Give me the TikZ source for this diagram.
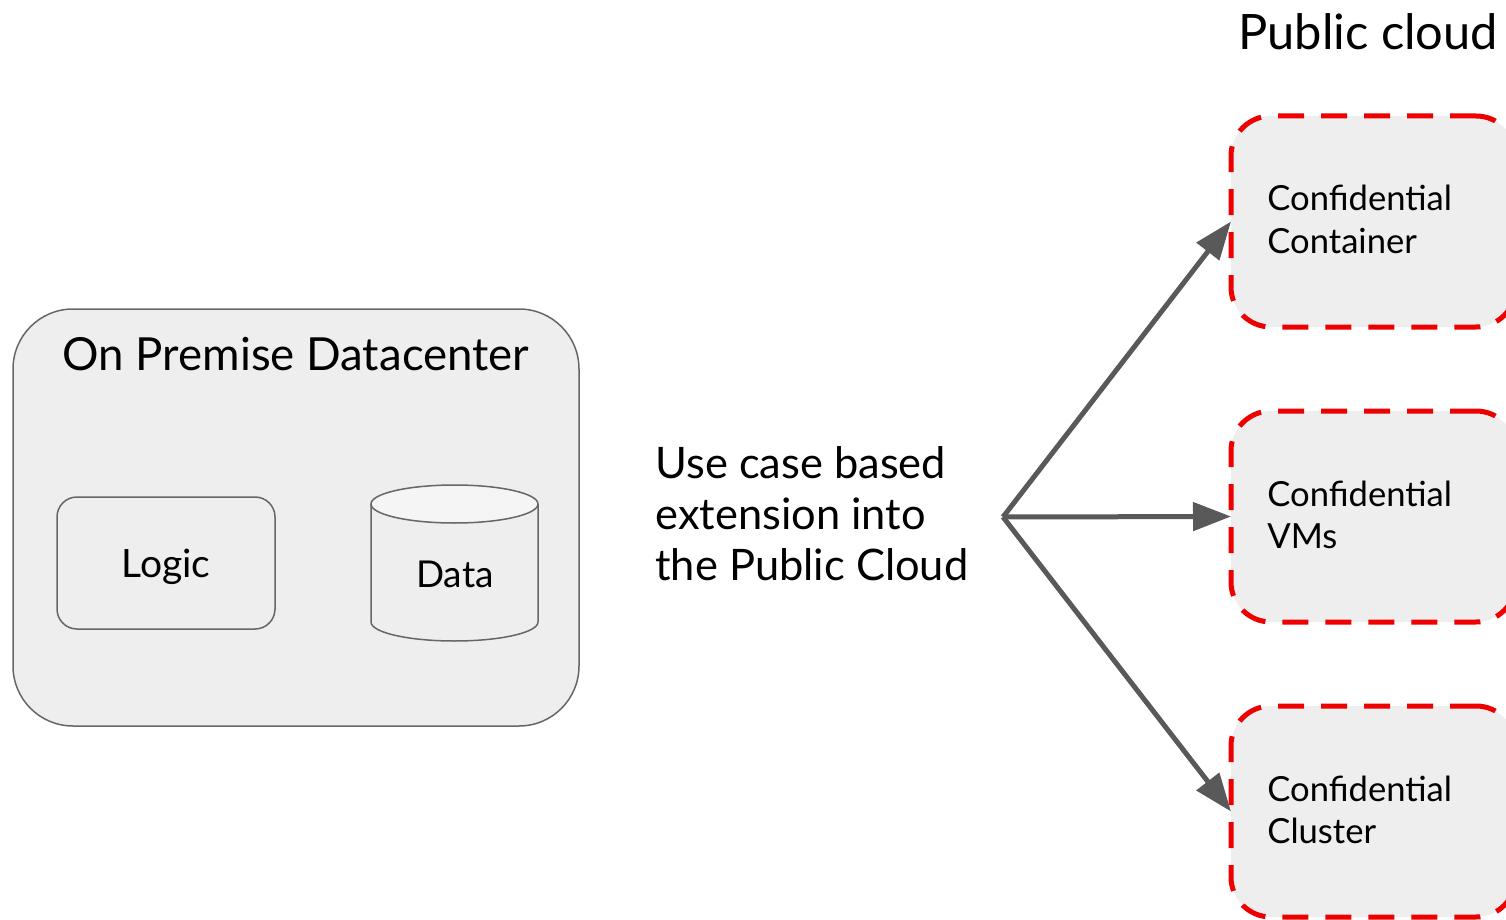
\documentclass[tikz,border=0pt]{standalone}
\usepackage{fontspec}
\setmainfont{Lato}
\usetikzlibrary{arrows.meta}
\definecolor{boxgray}{HTML}{EEEEEE}
\definecolor{topgray}{HTML}{F5F5F5}
\definecolor{linegray}{HTML}{666666}
\definecolor{arrowgray}{HTML}{595959}
\definecolor{cloudred}{HTML}{EE0000}
\tikzset{
  premise/.style={draw=linegray, line width=0.75pt, fill=boxgray, rounded corners=30pt,
    minimum width=283pt, minimum height=208.5pt, inner sep=0pt},
  logicbox/.style={draw=linegray, line width=0.75pt, fill=boxgray, rounded corners=10pt,
    minimum width=109pt, minimum height=66pt, inner sep=0pt},
  cloudbox/.style={draw=cloudred, line width=2.5pt, dash pattern=on 13pt off 8.5pt,
    fill=boxgray, rounded corners=20pt, minimum width=142.5pt, minimum height=105.5pt,
    outer sep=0pt},
  flow/.style={draw=arrowgray, line width=2.5pt, -{Triangle[length=19pt,width=14pt]}},
  label/.style={inner sep=0pt, text=black},
}
\begin{document}
\begin{tikzpicture}[x=0.5pt,y=-0.5pt]
\useasboundingbox (0,0) rectangle (1506,920);
% on premise side
\node[premise] (datacenter) at (296,517.5) {};
\node[label, anchor=base, font=\fontsize{22.8}{27}\selectfont] (dctitle) at (296,370) {On Premise Datacenter};
\node[logicbox] (logic) at (166,563) {};
\node[label, anchor=base, font=\fontsize{19.5}{23}\selectfont] (logictext) at (166,577) {Logic};
% data store
\draw[linegray, line width=0.75pt, fill=boxgray] (371,504) -- (371,622) arc[start angle=180, end angle=0, x radius=83.5, y radius=19] -- (538,504);
\draw[linegray, line width=0.75pt, fill=topgray] (454.5,504) ellipse[x radius=83.5, y radius=19];
\node[label, anchor=base, font=\fontsize{18.5}{22}\selectfont] (data) at (455,587) {Data};
% middle text
\node[label, anchor=base west, align=left, font=\fontsize{21.7}{25.5}\selectfont] (usecase) at (655,580) {Use case based\\extension into\\the Public Cloud};
% public cloud side
\node[label, anchor=base west, font=\fontsize{24.4}{29}\selectfont] (cloudtitle) at (1238,50) {Public cloud};
\node[cloudbox] (container) at (1373.5,221.5) {};
\node[cloudbox] (vms) at (1373.5,516.5) {};
\node[cloudbox] (cluster) at (1373.5,811.5) {};
\node[label, anchor=base west, align=left, font=\fontsize{17.3}{21}\selectfont] (containertext) at (1267,253) {Confidential\\Container};
\node[label, anchor=base west, align=left, font=\fontsize{17.3}{21}\selectfont] (vmstext) at (1267,548) {Confidential\\VMs};
\node[label, anchor=base west, align=left, font=\fontsize{17.3}{21}\selectfont] (clustertext) at (1267,843) {Confidential\\Cluster};
% arrows
\coordinate (hub) at (1003,517);
\draw[flow] (hub) -- (container.west);
\draw[flow] (hub) -- (vms.west);
\draw[flow] (hub) -- (cluster.west);
\end{tikzpicture}
\end{document}
